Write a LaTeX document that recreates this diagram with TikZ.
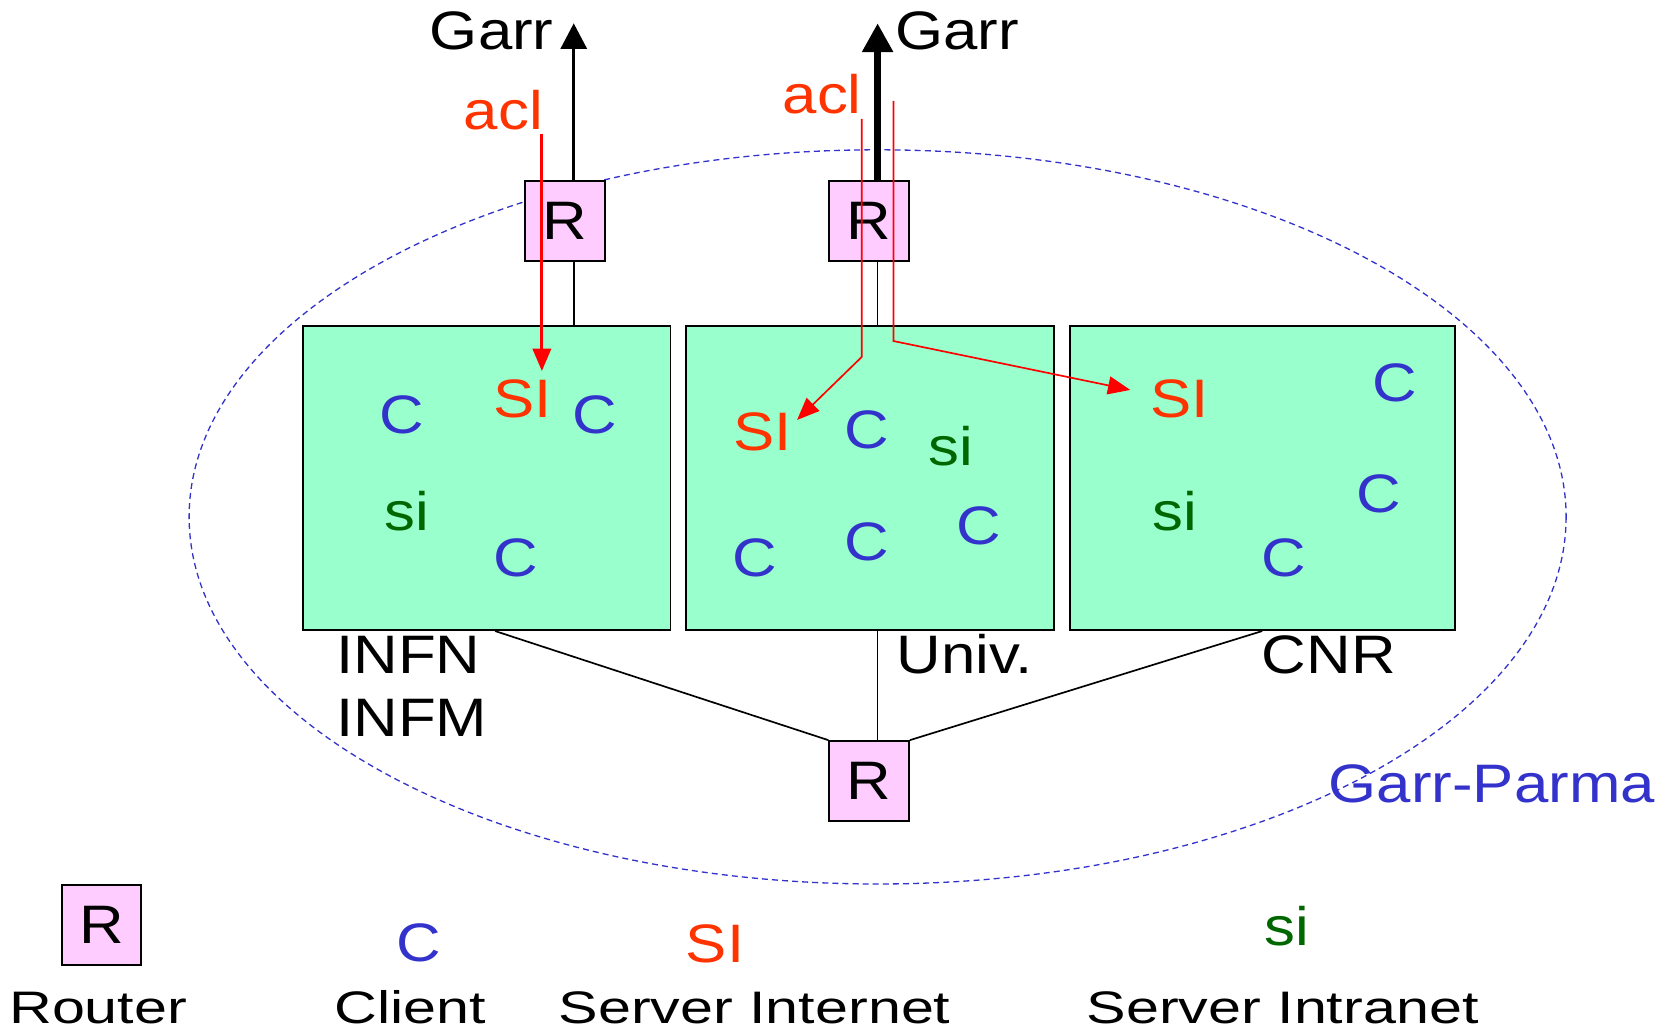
\documentclass[tikz,border=0pt]{standalone}
\usepackage{fontspec}
\setmainfont[FakeStretch=1.14]{Liberation Sans}
\newfontfamily\legendfont[FakeStretch=1.3]{Liberation Sans}
\usetikzlibrary{arrows.meta}
\definecolor{langreen}{HTML}{99FFCC}
\definecolor{routerpink}{HTML}{FFCCFF}
\definecolor{clientblue}{HTML}{3333CC}
\definecolor{inetred}{HTML}{FF3300}
\definecolor{intragreen}{HTML}{006600}

\begin{document}
\begin{tikzpicture}[x=0.01cm, y=-0.01cm, font=\fontsize{14.5}{17}\selectfont,
    router/.style={draw, line width=0.5pt, fill=routerpink, minimum width=0.75cm, minimum height=0.75cm, inner sep=0pt},
    lan/.style={draw, line width=0.5pt, fill=langreen, anchor=north west, minimum height=2.86cm, inner sep=0pt},
    client/.style={text=clientblue, inner sep=0pt},
    inet/.style={text=inetred, inner sep=0pt},
    intra/.style={text=intragreen, inner sep=0pt},
    lbl/.style={anchor=base west, inner sep=0pt},
    leglbl/.style={anchor=base west, inner sep=0pt, font=\legendfont\fontsize{12.2}{14}\selectfont},
    acl/.style={red, line width=0.45pt, -{Triangle[width=0.17cm, length=0.21cm]}}]
        \useasboundingbox (0,0) rectangle (1568,970);

        % area
        \draw[clientblue, line width=0.35pt, dash pattern=on 1.6pt off 1.1pt] (826,486.5) ellipse [x radius=648, y radius=345.5];

        % routers and lans
        \node[router] (r1) at (532,208) {R};
        \node[router] (r2) at (818,208) {R};
        \node[router] (r3) at (818,735) {R};
        \node[lan, minimum width=3.46cm] (infn) at (284,306) {};
        \node[lan, minimum width=3.46cm] (univ) at (645,306) {};
        \node[lan, minimum width=3.62cm] (cnr) at (1006,306) {};

        % hosts
        \node[client] (c1) at (378,390) {C};
        \node[inet] (si1) at (492,375) {SI};
        \node[client] (c2) at (560,390) {C};
        \node[intra] (in1) at (383,481) {si};
        \node[client] (c3) at (485,525) {C};

        \node[inet] (si2) at (718,406) {SI};
        \node[client] (c4) at (816,405) {C};
        \node[intra] (in2) at (895,420) {si};
        \node[client] (c5) at (710,525) {C};
        \node[client] (c6) at (816,510) {C};
        \node[client] (c7) at (921,495) {C};

        \node[inet] (si3) at (1110,375) {SI};
        \node[client] (c8) at (1313,360) {C};
        \node[intra] (in3) at (1106,481) {si};
        \node[client] (c9) at (1298,465) {C};
        \node[client] (c10) at (1208,525) {C};

        % labels
        \node[lbl] (garr1) at (404,47) {Garr};
        \node[lbl] (garr2) at (842,47) {Garr};
        \node[lbl, text=inetred] (acl1) at (436,122) {acl};
        \node[lbl, text=inetred] (acl2) at (736,107) {acl};
        \node[anchor=north west, align=left, inner sep=0pt] (infnlbl) at (316,598) {INFN\\INFM};
        \node[lbl] (univlbl) at (843,634) {Univ.};
        \node[lbl] (cnrlbl) at (1187,634) {CNR};
        \node[lbl, text=clientblue] (parma) at (1250,755) {Garr-Parma};

        % uplinks
        \coordinate (g1) at (540,22);
        \coordinate (g2) at (826,22);
        \draw[line width=0.75pt, -{Triangle[width=0.245cm, length=0.24cm]}] (r1.north -| g1) -- (g1);
        \draw[line width=1.7pt, -{Triangle[width=0.28cm, length=0.27cm]}] (r2.north -| g2) -- (g2);
        \draw[line width=0.45pt] (r1.south -| g1) -- (infn.north -| g1);
        \draw[line width=0.45pt] (r2.south -| g2) -- (univ.north -| g2);

        % internal links
        \draw[line width=0.45pt] ([xshift=0.08cm]infn.south) -- (r3.north west);
        \draw[line width=0.45pt] (univ.south -| g2) -- (r3.north -| g2);
        \draw[line width=0.45pt] (cnr.south) -- (r3.north east);

        % acl paths
        \coordinate (a1) at (510,126);
        \coordinate (a2) at (811,112);
        \coordinate (a3) at (841,95);
        \draw[acl, line width=0.85pt] (a1) -- ([yshift=0.07cm]a1 |- si1.north);
        \draw[acl] (a2) -- ++(0,224) -- ([shift={(4,8)}]si2.north east);
        \draw[acl] (a3) -- ++(0,226) -- ([shift={(-18,-8)}]si3.west);

        % legend
        \node[router] (rleg) at (95.5,870.5) {R};
        \node[client] (cleg) at (394,887) {C};
        \node[inet] (sileg) at (673,888) {SI};
        \node[intra] (inleg) at (1211,872) {si};
        \node[leglbl] (routerlbl) at (8,963) {Router};
        \node[leglbl] (clientlbl) at (314,963) {Client};
        \node[leglbl] (inetlbl) at (525,963) {Server Internet};
        \node[leglbl] (intralbl) at (1022,963) {Server Intranet};
      \end{tikzpicture}
\end{document}
